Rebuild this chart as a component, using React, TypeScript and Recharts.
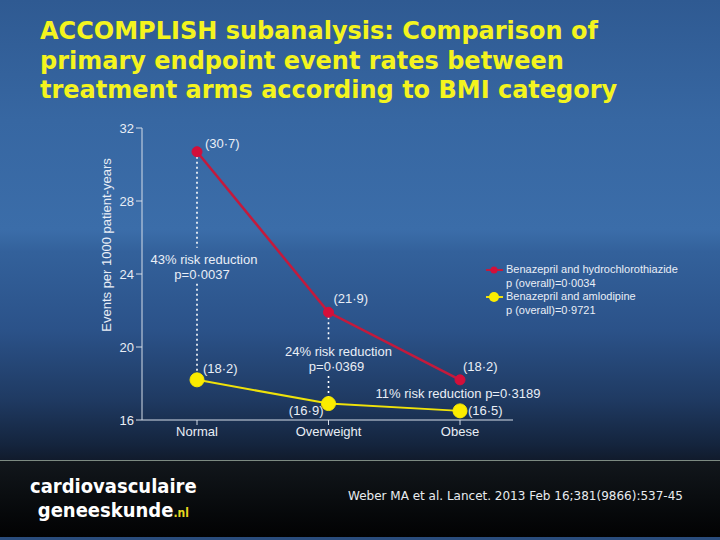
import React from 'react';
import { LineChart, Line, XAxis, YAxis, LabelList, ReferenceLine, Legend } from 'recharts';

const categories = ['Normal', 'Overweight', 'Obese'];
const hctzValues = [30.7, 21.9, 18.2];
const amlodipineValues = [18.2, 16.9, 16.5];
const riskReductions = ['43%', '24%', '11%'];
const pValues = ['0·0037', '0·0369', '0·3189'];
const yTicks = [16, 20, 24, 28, 32];
const seriesNames = ['Benazepril and hydrochlorothiazide', 'Benazepril and amlodipine'];
const overallP = ['0·0034', '0·9721'];

// style-only placement tables
const redLabelOffset = [[8, -8], [5, -14], [3, -13]];
const yellowLabelOffset = [[6, -11], [-5, 7], [8, 0]];
const yellowLabelAnchor = ['start', 'end', 'start'];
const annotationDx = [7, 10, -2];
const annotationInline = [false, false, true];

const RED = '#c41a3c';
const RED_DOT = '#d40f3a';
const YELLOW = '#efe20a';
const YELLOW_DOT = '#fbec00';
const TXT = '#e9eef6';
const FONT = '"Liberation Sans", Arial, sans-serif';

const data = categories.map((c, i) => ({ category: c, hctz: hctzValues[i], aml: amlodipineValues[i] }));

const fmt = (v: number) => `(${v.toFixed(1).replace('.', '·')})`;

const makeRedLabel = (props: any) => {
  const { x, y, value, index } = props;
  const [dx, dy] = redLabelOffset[index];
  return (
    <text x={x + dx} y={y + dy} fill={TXT} fontSize={13} fontFamily={FONT} dominantBaseline="central" textAnchor="start">
      {fmt(value)}
    </text>
  );
};

const makeYellowLabel = (props: any) => {
  const { x, y, value, index } = props;
  const [dx, dy] = yellowLabelOffset[index];
  return (
    <text x={x + dx} y={y + dy} fill={TXT} fontSize={13} fontFamily={FONT} dominantBaseline="central" textAnchor={yellowLabelAnchor[index] as any}>
      {fmt(value)}
    </text>
  );
};

const makeAnnotation = (i: number) => (props: any) => {
  const { x1, y1, x2, y2 } = props;
  if (x1 == null || y1 == null) return <g />;
  const top = Math.min(y1, y2);
  const bot = Math.max(y1, y2);
  const mid = (top + bot) / 2;
  const gap = 18;
  const cx = x1 + annotationDx[i];
  return (
    <g>
      {top < mid - gap && (
        <line x1={x1} x2={x1} y1={top} y2={mid - gap} stroke="#ffffff" strokeWidth={1.6} strokeDasharray="2 3" />
      )}
      {bot > mid + gap && (
        <line x1={x1} x2={x1} y1={mid + gap} y2={bot} stroke="#ffffff" strokeWidth={1.6} strokeDasharray="2 3" />
      )}
      {annotationInline[i] ? (
        <text x={cx} y={mid - 2} fill={TXT} fontSize={13} fontFamily={FONT} textAnchor="middle" dominantBaseline="central">
          {`${riskReductions[i]} risk reduction p=${pValues[i]}`}
        </text>
      ) : (
        <g>
          <text x={cx} y={mid - 6} fill={TXT} fontSize={13} fontFamily={FONT} textAnchor="middle" dominantBaseline="central">
            {`${riskReductions[i]} risk reduction`}
          </text>
          <text x={cx - 2} y={mid + 9} fill={TXT} fontSize={13} fontFamily={FONT} textAnchor="middle" dominantBaseline="central">
            {`p=${pValues[i]}`}
          </text>
        </g>
      )}
    </g>
  );
};

const LegendContent = () => {
  const colors = [[RED, RED_DOT, 3.5], [YELLOW, YELLOW_DOT, 5]] as const;
  return (
    <div style={{ fontFamily: FONT, fontSize: 11, color: TXT, lineHeight: '13.5px' }}>
      {seriesNames.map((n, i) => (
        <div key={n} style={{ position: 'relative', paddingLeft: 22 }}>
          <svg width={20} height={14} style={{ position: 'absolute', left: 0, top: 0 }}>
            <line x1={2} x2={19} y1={7} y2={7} stroke={colors[i][0]} strokeWidth={2} />
            <circle cx={10} cy={7} r={colors[i][2]} fill={colors[i][1]} />
          </svg>
          <div>{n}</div>
          <div>{`p (overall)=${overallP[i]}`}</div>
        </div>
      ))}
    </div>
  );
};

const YLabel = (props: any) => {
  const vb = props.viewBox || { x: 82, y: 128, width: 60, height: 292 };
  const x = vb.x + 24;
  const y = vb.y + vb.height / 2 - 29;
  return (
    <text x={x} y={y} transform={`rotate(-90, ${x}, ${y})`} fill={TXT} fontSize={13} fontFamily={FONT} textAnchor="middle" dominantBaseline="central">
      Events per 1000 patient-years
    </text>
  );
};

export default function App() {
  return (
    <div
      style={{
        position: 'absolute',
        left: 0,
        top: 0,
        width: 720,
        height: 540,
        overflow: 'hidden',
        background:
          'linear-gradient(to bottom, #2f5a92 0px, #3767a2 120px, #3b6da9 230px, #33619b 252px, #2b5289 330px, #1f3a62 400px, #14243d 445px, #111b2c 460px)',
      }}
    >
      <div
        style={{
          position: 'absolute',
          left: 40,
          top: 17,
          width: 690,
          fontFamily: '"DejaVu Sans", Verdana, sans-serif',
          fontWeight: 'bold',
          fontSize: 24,
          lineHeight: '29.5px',
          color: '#f4f41e',
          whiteSpace: 'nowrap',
        }}
      >
        <div>ACCOMPLISH subanalysis: Comparison of</div>
        <div>primary endpoint event rates between</div>
        <div>treatment arms according to BMI category</div>
      </div>

      <div style={{ position: 'absolute', left: 0, top: 0 }}>
        <LineChart width={720} height={460} data={data} margin={{ top: 128, right: 207, bottom: 10, left: 82 }}>
          <XAxis
            dataKey="category"
            padding={{ left: 55, right: 53 }}
            stroke="#d5dde8"
            tickSize={5}
            tickMargin={2}
            height={30}
            tick={{ fill: TXT, fontSize: 13, fontFamily: FONT }}
          />
          <YAxis
            domain={[16, 32]}
            ticks={yTicks}
            width={60}
            stroke="#d5dde8"
            tickSize={6}
            tickMargin={2}
            tick={{ fill: TXT, fontSize: 13, fontFamily: FONT }}
            label={<YLabel />}
          />
          {categories.map((c, i) => (
            <ReferenceLine
              key={c}
              segment={[
                { x: c, y: hctzValues[i] },
                { x: c, y: amlodipineValues[i] },
              ]}
              stroke="#ffffff"
              shape={makeAnnotation(i)}
            />
          ))}
          <Line
            dataKey="hctz"
            name={seriesNames[0]}
            stroke={RED}
            strokeWidth={2.5}
            dot={{ r: 5, fill: RED_DOT, stroke: RED_DOT, strokeWidth: 1 }}
            isAnimationActive={false}
          >
            <LabelList dataKey="hctz" content={makeRedLabel} />
          </Line>
          <Line
            dataKey="aml"
            name={seriesNames[1]}
            stroke={YELLOW}
            strokeWidth={2}
            dot={{ r: 7, fill: YELLOW_DOT, stroke: YELLOW_DOT, strokeWidth: 1 }}
            isAnimationActive={false}
          >
            <LabelList dataKey="aml" content={makeYellowLabel} />
          </Line>
          <Legend
            layout="horizontal"
            align="center"
            verticalAlign="middle"
            content={<LegendContent />}
            wrapperStyle={{ left: 484, top: 263, width: 230, height: 60 }}
          />
        </LineChart>
      </div>

      <div style={{ position: 'absolute', left: 0, top: 460, width: 720, height: 1, background: '#7d8b82' }} />
      <div
        style={{
          position: 'absolute',
          left: 0,
          top: 461,
          width: 720,
          height: 76,
          background: 'linear-gradient(to bottom, #12171c 0%, #06080a 70%, #020203 100%)',
        }}
      />
      <div style={{ position: 'absolute', left: 0, top: 537, width: 720, height: 3, background: '#2a4c7c' }} />

      <div
        style={{
          position: 'absolute',
          left: 30,
          top: 475,
          fontFamily: '"DejaVu Sans Condensed", "DejaVu Sans", sans-serif',
          fontStretch: 'condensed',
          fontWeight: 'bold',
          fontSize: 20,
          lineHeight: '23.5px',
          color: '#ffffff',
          textAlign: 'center',
          whiteSpace: 'nowrap',
        }}
      >
        <div>cardiovasculaire</div>
        <div>
          geneeskunde<span style={{ color: '#e8d820', fontSize: 12 }}>.nl</span>
        </div>
      </div>

      <div
        style={{
          position: 'absolute',
          left: 348,
          top: 489,
          fontFamily: '"DejaVu Sans", Verdana, sans-serif',
          fontSize: 12,
          color: '#e8ebef',
          whiteSpace: 'nowrap',
        }}
      >
        Weber MA et al. Lancet. 2013 Feb 16;381(9866):537-45
      </div>
    </div>
  );
}
